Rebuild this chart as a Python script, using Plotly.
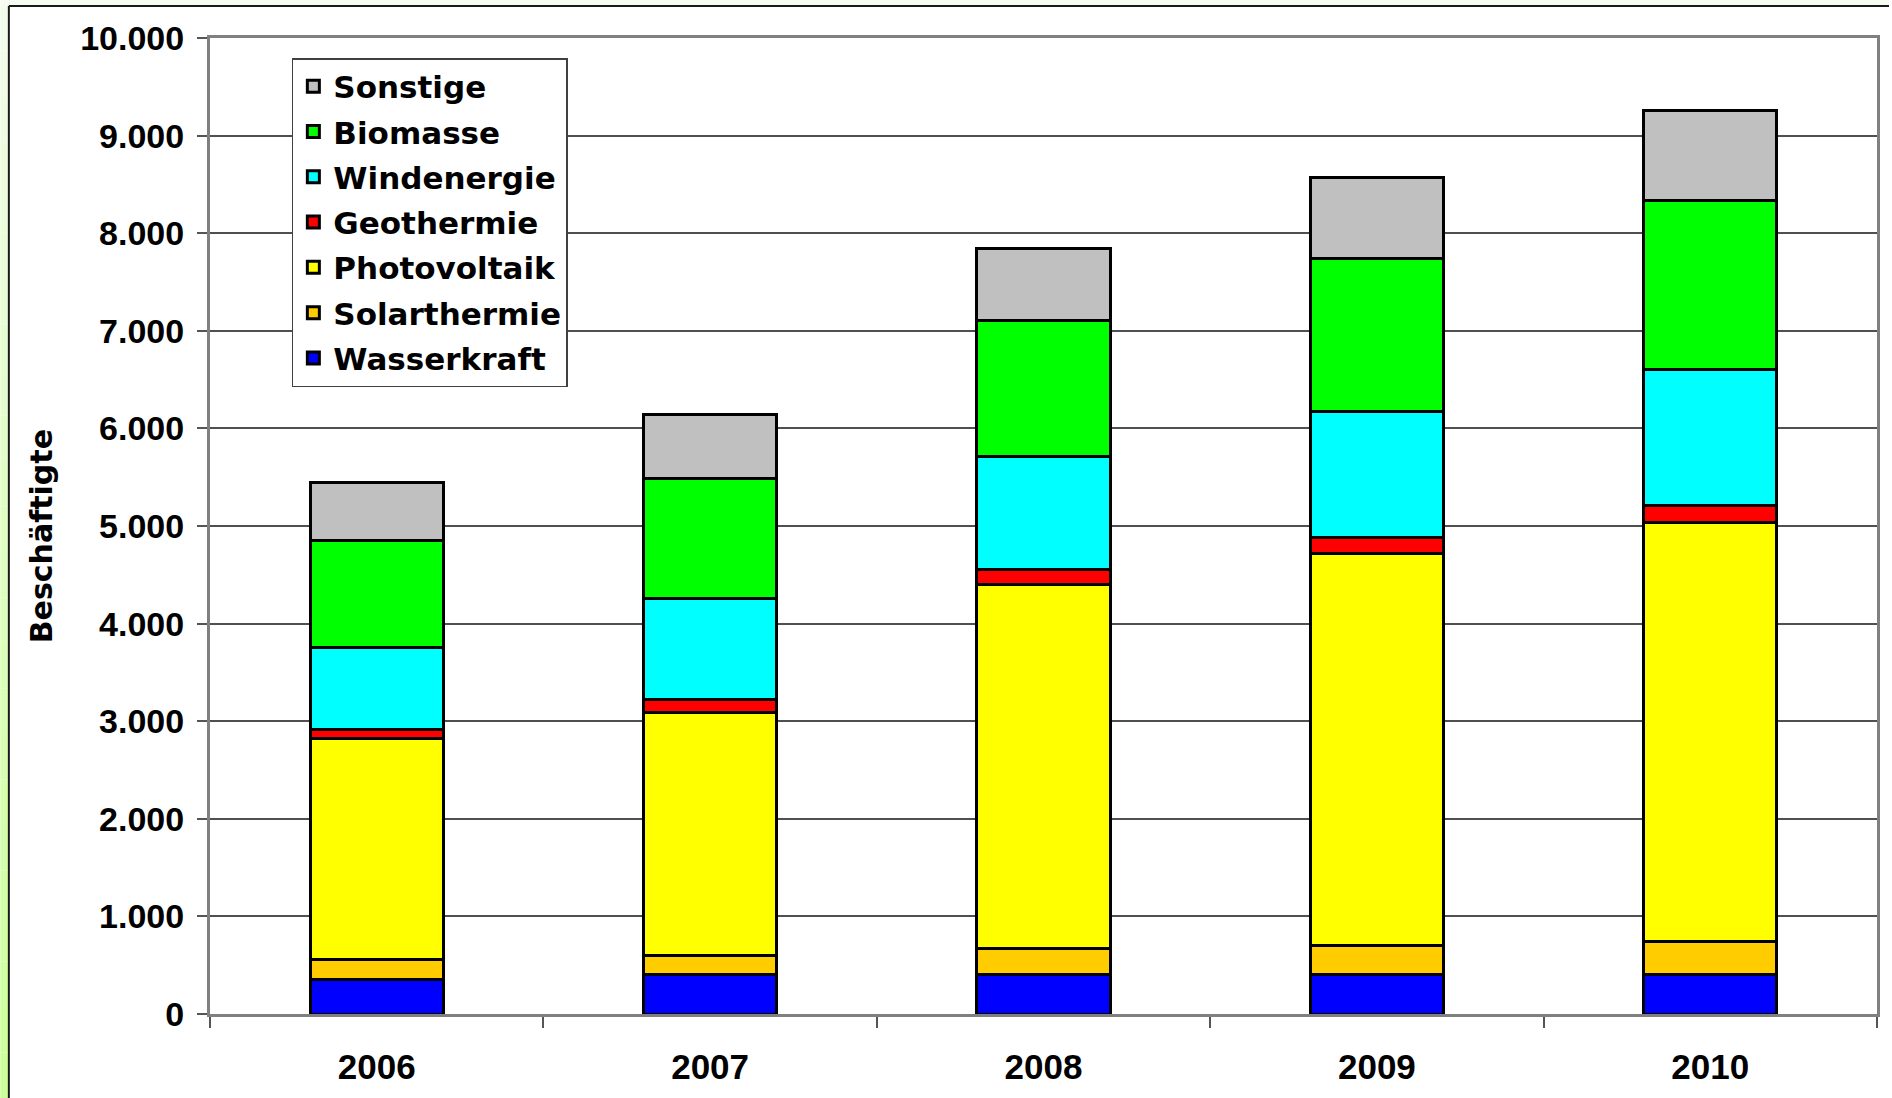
import plotly.graph_objects as go

# Beschäftigte nach Sparte (gestapelt), 2006-2010
years = ["2006", "2007", "2008", "2009", "2010"]
wasserkraft = [355, 400, 400, 400, 400]
solarthermie = [200, 200, 270, 300, 340]
photovoltaik = [2265, 2490, 3735, 4015, 4300]
geothermie = [100, 135, 150, 165, 175]
windenergie = [840, 1030, 1155, 1295, 1390]
biomasse = [1090, 1230, 1400, 1565, 1725]
sonstige = [595, 655, 730, 830, 930]

y_ticks = list(range(0, 10001, 1000))

# bottom-to-top stacking order
series = [
    ("Wasserkraft", wasserkraft, "#0000ff"),
    ("Solarthermie", solarthermie, "#ffcc00"),
    ("Photovoltaik", photovoltaik, "#ffff00"),
    ("Geothermie", geothermie, "#ff0000"),
    ("Windenergie", windenergie, "#00ffff"),
    ("Biomasse", biomasse, "#00ff00"),
    ("Sonstige", sonstige, "#c0c0c0"),
]

W, H = 1892, 1098
PL, PR, PT, PB = 210, 1880, 38, 1014  # plot area in pixels


def px_x(x):
    return (x - PL) / (PR - PL)


def px_y(y):
    return (PB - y) / (PB - PT)


fig = go.Figure()
for i, (name, vals, col) in enumerate(series):
    fig.add_trace(go.Bar(
        x=years, y=vals, name=name, legendgroup=name,
        legendrank=len(series) - i,
        marker=dict(color=col, line=dict(color="#000000", width=3)),
    ))

# light green strip at the left page edge (vertical gradient)
shapes = []
n_bands = 24
top_rgb = (242, 252, 234)
bot_rgb = (204, 255, 153)
for i in range(n_bands):
    t = i / (n_bands - 1)
    c = tuple(round(a + (b - a) * t) for a, b in zip(top_rgb, bot_rgb))
    y_a = 6 + (H - 6) * i / n_bands
    y_b = 6 + (H - 6) * (i + 1) / n_bands
    shapes.append(dict(
        type="rect", xref="paper", yref="paper", layer="below",
        x0=px_x(0), x1=px_x(8), y0=px_y(y_b), y1=px_y(y_a),
        fillcolor="rgb(%d,%d,%d)" % c, line=dict(width=0),
    ))
shapes.append(dict(
    type="rect", xref="paper", yref="paper", layer="below",
    x0=px_x(0), x1=px_x(W), y0=px_y(6), y1=px_y(0),
    fillcolor="#f7fcf2", line=dict(width=0),
))
# outer chart frame
shapes.append(dict(type="line", xref="paper", yref="paper",
                   x0=px_x(8.5), x1=px_x(8.5), y0=px_y(H), y1=px_y(6),
                   line=dict(color="#1a1a1a", width=2)))
shapes.append(dict(type="line", xref="paper", yref="paper",
                   x0=px_x(8.5), x1=px_x(W), y0=px_y(6), y1=px_y(6),
                   line=dict(color="#1a1a1a", width=2)))

fig.update_layout(
    width=W, height=H,
    margin=dict(l=PL, r=W - PR, t=PT, b=H - PB),
    paper_bgcolor="#ffffff", plot_bgcolor="#ffffff",
    barmode="stack", bargap=0.6,
    separators=",.",
    font=dict(family="Liberation Sans, Arial, sans-serif", color="#000000"),
    shapes=shapes,
    showlegend=True,
    legend=dict(
        x=px_x(292), y=px_y(58), xanchor="left", yanchor="top",
        traceorder="grouped", tracegroupgap=2,
        bgcolor="#ffffff", bordercolor="#404040", borderwidth=1.5,
        font=dict(family="DejaVu Sans, sans-serif", size=31, color="#000000",
                  weight="bold"),
        itemwidth=30,
    ),
    xaxis=dict(
        type="category", tickson="boundaries", ticks="outside", ticklen=11,
        tickcolor="#555555", tickwidth=1.5,
        showline=True, linecolor="#808080", linewidth=3, mirror=True,
        showgrid=False,
        tickfont=dict(size=35, weight="bold"),
        ticklabelstandoff=20,
    ),
    yaxis=dict(
        range=[0, 10000], tickvals=y_ticks, tickformat=",d",
        ticks="outside", ticklen=10, tickcolor="#555555", tickwidth=1.5,
        showline=True, linecolor="#808080", linewidth=3, mirror=True,
        showgrid=True, gridcolor="#505050", gridwidth=1.5,
        zeroline=False,
        tickfont=dict(size=34, weight="bold"),
        ticklabelstandoff=6,
    ),
    annotations=[dict(
        text="Beschäftigte", textangle=-90, showarrow=False,
        xref="paper", yref="paper", x=px_x(41), y=px_y(536),
        xanchor="center", yanchor="middle",
        font=dict(family="DejaVu Sans, sans-serif", size=30, weight="bold",
                  color="#000000"),
    )],
)

fig.write_html("out.html")
